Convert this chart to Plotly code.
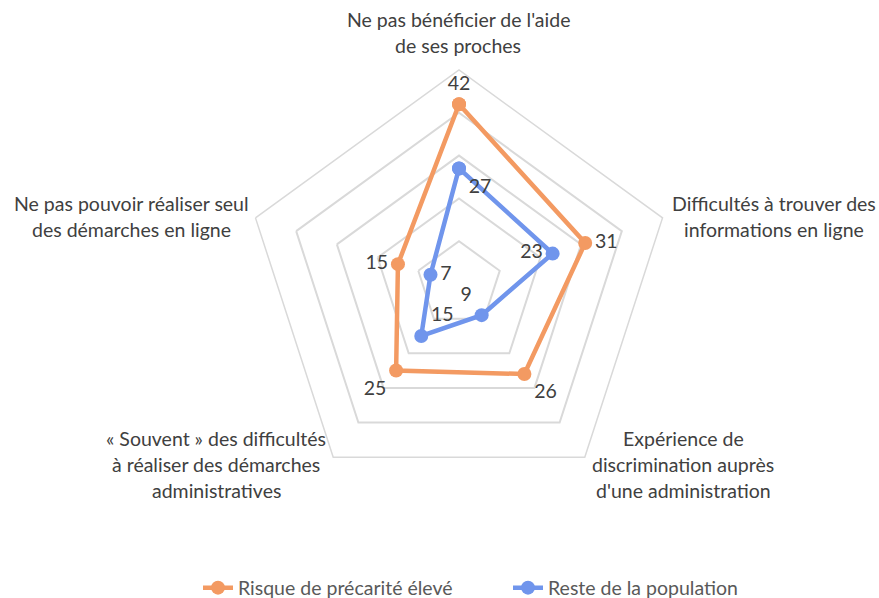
import plotly.graph_objects as go

categories = [
    "Ne pas bénéficier de l'aide de ses proches",
    "Difficultés à trouver des informations en ligne",
    "Expérience de discrimination auprès d'une administration",
    "« Souvent » des difficultés à réaliser des démarches administratives",
    "Ne pas pouvoir réaliser seul des démarches en ligne",
]
category_lines = [
    ["Ne pas bénéficier de l'aide", "de ses proches"],
    ["Difficultés à trouver des", "informations en ligne"],
    ["Expérience de", "discrimination auprès", "d'une administration"],
    ["« Souvent » des difficultés", "à réaliser des démarches", "administratives"],
    ["Ne pas pouvoir réaliser seul", "des démarches en ligne"],
]
series_names = ["Risque de précarité élevé", "Reste de la population"]
risque = [42, 31, 26, 25, 15]
reste = [27, 23, 9, 15, 7]

orange = "#F39A62"
blue = "#7095EC"
txt = "#404040"
FONT = "Lato"
FS = 19.5

fig = go.Figure()
fig.add_trace(go.Scatterpolar(
    r=risque + [risque[0]], theta=categories + [categories[0]],
    mode="lines+markers+text", name=series_names[0],
    line=dict(color=orange, width=4.5), marker=dict(size=14, color=orange),
    text=[str(v) for v in risque] + [""],
    textposition=["top center", "middle right", "bottom right", "bottom left", "middle left", "top center"],
    textfont=dict(size=FS, color=txt, family=FONT),
    cliponaxis=False,
))
fig.add_trace(go.Scatterpolar(
    r=reste + [reste[0]], theta=categories + [categories[0]],
    mode="lines+markers+text", name=series_names[1],
    line=dict(color=blue, width=4.5), marker=dict(size=14, color=blue),
    text=[str(v) for v in reste] + [""],
    textposition=["bottom right", "middle left", "top left", "top right", "middle right", "top center"],
    textfont=dict(size=FS, color=txt, family=FONT),
    cliponaxis=False,
))

W, H = 879, 598
cx, cy, R = 459, 284, 214
label_centers = [(458, 33), (774, 216), (683, 464), (216, 464), (131, 216)]
line_gap = 26
annotations = []
for lines, (px, py) in zip(category_lines, label_centers):
    n = len(lines)
    for i, ln in enumerate(lines):
        yy = py + (i - (n - 1) / 2) * line_gap
        annotations.append(dict(
            text=ln, x=px / W, y=1 - yy / H, xref="paper", yref="paper",
            xanchor="center", yanchor="middle", showarrow=False,
            font=dict(size=FS, color=txt, family=FONT),
        ))

fig.update_layout(
    width=W, height=H,
    margin=dict(l=0, r=0, t=0, b=0, autoexpand=False),
    paper_bgcolor="white", plot_bgcolor="white",
    font=dict(family=FONT, color=txt, size=FS),
    polar=dict(
        domain=dict(x=[(cx - R) / W, (cx + R) / W], y=[1 - (cy + R) / H, 1 - (cy - R) / H]),
        bgcolor="white",
        gridshape="linear",
        radialaxis=dict(range=[0, 50], dtick=10, showticklabels=False, ticks="",
                        showline=False, gridcolor="#D9D9D9", gridwidth=1.5),
        angularaxis=dict(direction="clockwise", rotation=90, showgrid=False,
                         showline=True, linecolor="#D9D9D9", linewidth=1.5,
                         showticklabels=False, ticks=""),
    ),
    legend=dict(orientation="h", x=198 / W, xanchor="left", y=10 / H, yanchor="middle",
                font=dict(size=FS, color="#595959", family=FONT),
                entrywidth=265, entrywidthmode="pixels",
                tracegroupgap=0),
    annotations=annotations,
    showlegend=True,
)
fig.write_html("out.html", config={"displayModeBar": False},
               post_script="document.body.style.margin='0';document.body.style.overflow='hidden';")
